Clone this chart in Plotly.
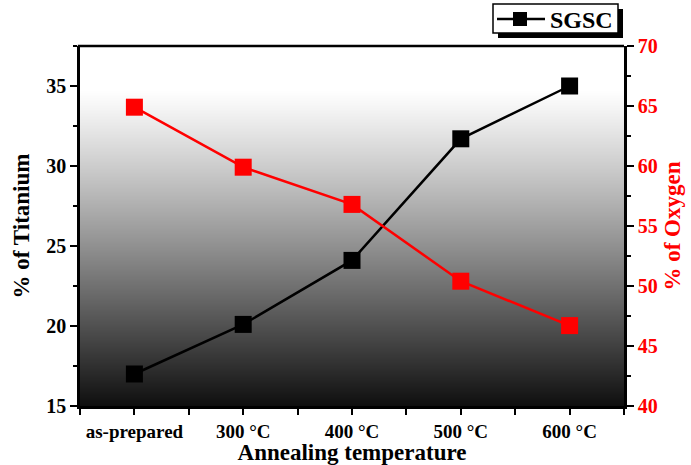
import base64, struct, zlib
import plotly.graph_objects as go

categories = ["as-prepared", "300 °C", "400 °C", "500 °C", "600 °C"]
titanium = [17.0, 20.1, 24.1, 31.7, 35.0]
oxygen = [64.9, 59.9, 56.8, 50.4, 46.7]
legend_label = "SGSC"

x = list(range(len(categories)))
FONT = "Liberation Serif"


def gradient_png(h=360):
    rows = b""
    for i in range(h):
        f = i / (h - 1)  # 0 top, 1 bottom
        t = max(0.0, (f - 0.12) / 0.88)
        g = int(round(255 - 240 * t ** 1.1))
        rows += b"\x00" + bytes([g, g])
    def chunk(tag, data):
        c = tag + data
        return struct.pack(">I", len(data)) + c + struct.pack(">I", zlib.crc32(c) & 0xffffffff)
    png = b"\x89PNG\r\n\x1a\n"
    png += chunk(b"IHDR", struct.pack(">IIBBBBB", 2, h, 8, 0, 0, 0, 0))
    png += chunk(b"IDAT", zlib.compress(rows))
    png += chunk(b"IEND", b"")
    return "data:image/png;base64," + base64.b64encode(png).decode()


fig = go.Figure()
fig.add_trace(go.Scatter(
    x=x, y=titanium, name=legend_label, mode="lines+markers",
    line=dict(color="black", width=2.5),
    marker=dict(symbol="square", size=17, color="black"),
    yaxis="y", showlegend=False,
))
fig.add_trace(go.Scatter(
    x=x, y=oxygen, name="Oxygen", mode="lines+markers",
    line=dict(color="#ff0000", width=2.5),
    marker=dict(symbol="square", size=17, color="#ff0000"),
    yaxis="y2", showlegend=False,
))

fig.add_layout_image(dict(source=gradient_png(), xref="x domain", yref="y domain",
                          x=0, y=1, sizex=1, sizey=1, sizing="stretch",
                          xanchor="left", yanchor="top", layer="below"))

L, T, PW, PH = 80, 46, 544, 360
def px(v):
    return (v - L) / PW
def py(v):
    return (T + PH - v) / PH

shapes = [
    dict(type="line", xref="paper", yref="paper", x0=-0.004, x1=1.0,
         y0=1, y1=1, line=dict(color="black", width=2.5)),
    # legend shadow
    dict(type="rect", xref="paper", yref="paper",
         x0=px(498), x1=px(623), y0=py(38), y1=py(9),
         fillcolor="black", line=dict(width=0)),
    # legend box
    dict(type="rect", xref="paper", yref="paper",
         x0=px(493), x1=px(618), y0=py(33), y1=py(4),
         fillcolor="white", line=dict(color="black", width=1.5)),
    # legend line sample
    dict(type="line", xref="paper", yref="paper",
         x0=px(497), x1=px(545), y0=py(19), y1=py(19),
         line=dict(color="black", width=2.5)),
    # legend marker sample
    dict(type="rect", xref="paper", yref="paper",
         x0=px(513), x1=px(527), y0=py(26), y1=py(12),
         fillcolor="black", line=dict(width=0)),
]
fig.update_layout(shapes=shapes)
fig.add_annotation(text=legend_label, xref="paper", yref="paper", x=px(548), y=py(19.5),
                   xanchor="left", yanchor="middle", showarrow=False,
                   font=dict(family=FONT, size=24, color="black", weight="bold"))

titlefont = dict(family=FONT, size=23, color="black", weight="bold")

fig.update_layout(
    width=691, height=465,
    margin=dict(l=80, r=67, t=46, b=59, autoexpand=False),
    paper_bgcolor="white", plot_bgcolor="white",
    showlegend=False,
    xaxis=dict(
        range=[-0.5, 4.5], tickmode="array", tickvals=x, ticktext=categories,
        showgrid=False, zeroline=False, showline=True, linecolor="black", linewidth=2.5,
        ticks="outside", ticklen=6, tickwidth=2, tickcolor="black",
        minor=dict(tickmode="linear", tick0=-0.5, dtick=1, ticks="outside", ticklen=6,
                   tickwidth=2, tickcolor="black", showgrid=False),
        tickfont=dict(family=FONT, size=19, color="black", weight="bold"),
        title=dict(text="Annealing temperature", font=titlefont, standoff=2),
        automargin=False,
    ),
    yaxis=dict(
        range=[15, 37.5], tickmode="linear", tick0=15, dtick=5,
        showgrid=False, zeroline=False, showline=True, linecolor="black", linewidth=2.5,
        ticks="outside", ticklen=7, tickwidth=2, tickcolor="black",
        minor=dict(tickmode="linear", tick0=15, dtick=2.5, ticks="outside", ticklen=4,
                   tickwidth=2, tickcolor="black", showgrid=False),
        tickfont=dict(family=FONT, size=20, color="black", weight="bold"),
        title=dict(text="% of Titanium", font=titlefont, standoff=11),
        automargin=False,
    ),
    yaxis2=dict(
        overlaying="y", side="right", range=[40, 70], tickmode="linear", tick0=40, dtick=5,
        showgrid=False, zeroline=False, showline=True, linecolor="black", linewidth=2.5,
        ticks="outside", ticklen=7, tickwidth=2, tickcolor="black",
        minor=dict(tickmode="linear", tick0=40, dtick=2.5, ticks="outside", ticklen=4,
                   tickwidth=2, tickcolor="black", showgrid=False),
        tickfont=dict(family=FONT, size=20, color="#ff0000", weight="bold"),
        title=dict(text="% of Oxygen", font=dict(family=FONT, size=23, color="#ff0000", weight="bold"),
                   standoff=8),
        automargin=False,
    ),
)

fig.write_html("out.html", config={"displayModeBar": False},
               post_script="document.body.style.margin='0';document.body.style.overflow='hidden';")
